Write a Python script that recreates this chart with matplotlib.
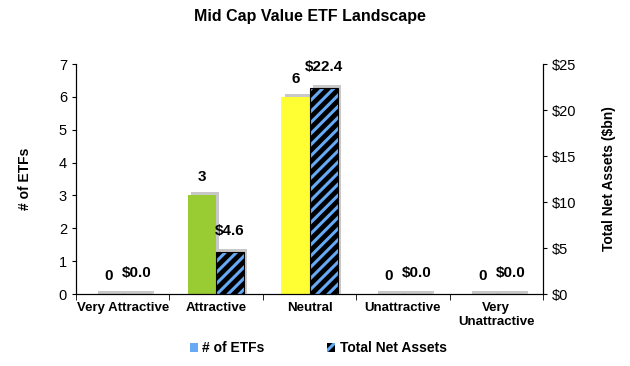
import matplotlib.pyplot as plt
from matplotlib.patches import Patch
import numpy as np

plt.rcParams['font.family'] = ['Liberation Sans', 'DejaVu Sans']
plt.rcParams['hatch.linewidth'] = 2.2

# --- Data ---
categories = ["Very Attractive", "Attractive", "Neutral", "Unattractive", "Very\nUnattractive"]
num_etfs = [0, 3, 6, 0, 0]
net_assets = [0.0, 4.6, 22.4, 0.0, 0.0]
count_colors = ["#1E8C1E", "#99CC33", "#FFFF33", "#F5A040", "#E03030"]

BLUE = "#66AAF5"
SHADOW = "#C8C8C8"

fig = plt.figure(figsize=(6.3, 3.66), dpi=100)
ax = fig.add_axes([0.1206, 0.1967, 0.7414, 0.6284])
ax2 = ax.twinx()

x = np.arange(len(categories))
w = 0.3

# shadows (drawn first, behind the bars)
ax.bar(x - w / 2 + 0.035, np.array(num_etfs) + 0.09, w, color=SHADOW, zorder=1)
ax2.bar(x + w / 2 + 0.035, np.array(net_assets) + 0.32, w, color=SHADOW, zorder=1)

# # of ETFs
ax.bar(x - w / 2, num_etfs, w, color=count_colors, zorder=2)
# Total Net Assets: black bar with blue stripes
ax2.bar(x + w / 2, net_assets, w, color="black", edgecolor=BLUE, hatch="///",
        linewidth=0, zorder=2)
ax2.bar(x + w / 2, net_assets, w, fill=False, edgecolor="black", linewidth=0.8, zorder=3)

# value labels
for i, v in enumerate(num_etfs):
    ax.annotate(f"{v}", (x[i] - w / 2, v), xytext=(0, 8), textcoords="offset points",
                ha="center", va="bottom", fontsize=11, fontweight="bold")
for i, v in enumerate(net_assets):
    ax2.annotate(f"${v:.1f}", (x[i] + w / 2, v), xytext=(0, 10), textcoords="offset points",
                 ha="center", va="bottom", fontsize=11, fontweight="bold")

# axes
ax.set_xlim(-0.5, len(categories) - 0.5)
ax.set_ylim(0, 7)
ax2.set_ylim(0, 25)
ax.set_yticks(range(0, 8))
ax2.set_yticks(range(0, 26, 5))
ax2.set_yticklabels([f"${t}" for t in range(0, 26, 5)])
ax.set_xticks(x)
ax.set_xticklabels(categories, fontsize=9.5, fontweight="bold")
ax.set_xticks(np.arange(-0.5, len(categories)), minor=True)
ax.tick_params(axis="x", which="major", length=0, pad=6)
ax.tick_params(axis="x", which="minor", length=4, direction="out")
ax.tick_params(axis="y", labelsize=10.5, length=3)
ax2.tick_params(axis="y", labelsize=10.5, length=3)

for a in (ax, ax2):
    a.spines["top"].set_visible(False)

ax.set_ylabel("# of ETFs", fontsize=10, fontweight="bold", labelpad=19)
ax2.set_ylabel("Total Net Assets ($bn)", fontsize=10, fontweight="bold", labelpad=18)
ax.set_title("Mid Cap Value ETF Landscape", fontsize=11.5, fontweight="bold", pad=31)

handles = [
    Patch(facecolor=BLUE, edgecolor="none"),
    Patch(facecolor="black", edgecolor=BLUE, hatch="///", linewidth=0),
]
fig.legend(handles, ["# of ETFs", "Total Net Assets"], loc="lower center",
           bbox_to_anchor=(0.505, -0.005), ncol=2, frameon=False,
           prop={"size": 10, "weight": "bold"}, handlelength=0.6, handleheight=0.6,
           handletextpad=0.3, columnspacing=4.5)

fig.savefig("out.png", dpi=100)
